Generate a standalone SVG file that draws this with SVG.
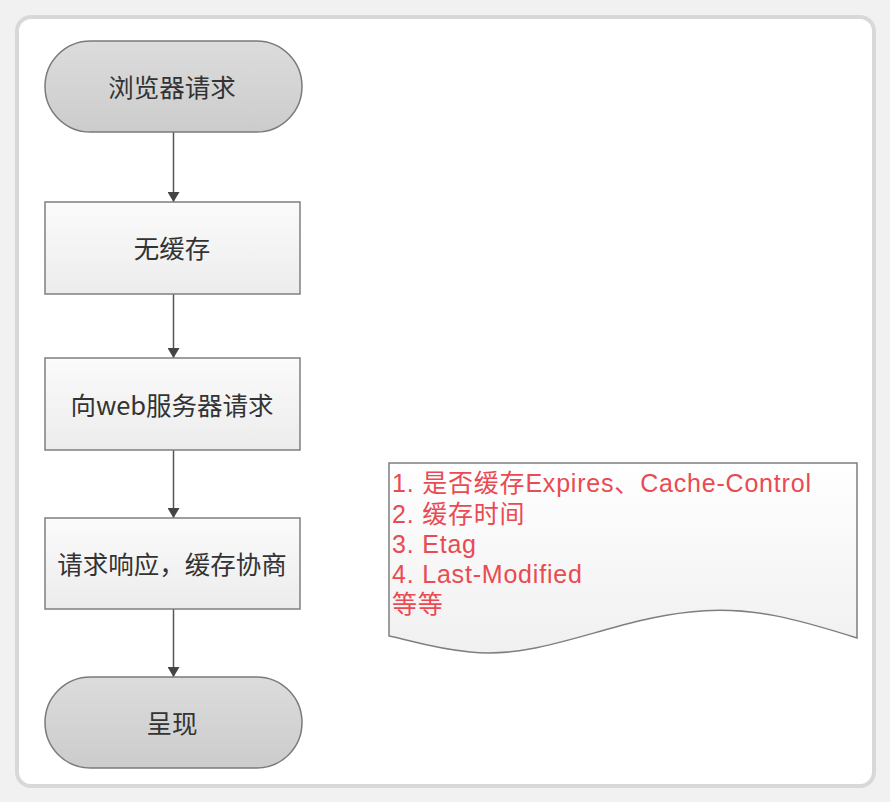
<svg xmlns="http://www.w3.org/2000/svg" width="890" height="802" viewBox="0 0 890 802">
<defs>
<linearGradient id="gT" x1="0" y1="0" x2="0" y2="1"><stop offset="0" stop-color="#dcdcdc"/><stop offset="1" stop-color="#cccccc"/></linearGradient>
<linearGradient id="gR" x1="0" y1="0" x2="0" y2="1"><stop offset="0" stop-color="#fbfbfb"/><stop offset="1" stop-color="#ececec"/></linearGradient>
<linearGradient id="gD" x1="0" y1="0" x2="0" y2="1"><stop offset="0" stop-color="#ffffff"/><stop offset="1" stop-color="#f0f0f0"/></linearGradient>
<marker id="arr" viewBox="0 0 10 12" refX="10" refY="6" markerWidth="10" markerHeight="12" markerUnits="userSpaceOnUse" orient="auto"><path d="M0,0 L10,6 L0,12 Z" fill="#444"/></marker>
</defs>
<style>
.term{fill:url(#gT);stroke:#7a7a7a;stroke-width:1.5}
.box{fill:url(#gR);stroke:#7f7f7f;stroke-width:1.5}
.lbl{font-family:"Noto Sans CJK SC","Noto Sans",sans-serif;font-size:25.5px;fill:#333;text-anchor:middle;dominant-baseline:central}
.note{font-family:"Liberation Sans","Noto Sans CJK SC",sans-serif;font-size:25px;letter-spacing:0.8px;fill:#ea4a52}
.conn{stroke:#555;stroke-width:1.5;fill:none}
</style>
<rect width="890" height="802" fill="#f1f1f1"/>
<rect x="17" y="17" width="857" height="769" rx="14" fill="#ffffff" stroke="#d8d8d8" stroke-width="4"/>
<g id="connectors">
<line class="conn" x1="173.5" y1="132" x2="173.5" y2="202" marker-end="url(#arr)"/>
<line class="conn" x1="173.5" y1="294" x2="173.5" y2="358" marker-end="url(#arr)"/>
<line class="conn" x1="173.5" y1="450" x2="173.5" y2="518" marker-end="url(#arr)"/>
<line class="conn" x1="173.5" y1="609" x2="173.5" y2="677" marker-end="url(#arr)"/>
</g>
<g id="n1">
<rect class="term" x="45" y="41" width="257" height="91" rx="45.5"/>
<text class="lbl" x="172" y="85">浏览器请求</text>
</g>
<g id="n2">
<rect class="box" x="45" y="202" width="255" height="92"/>
<text class="lbl" x="172" y="246">无缓存</text>
</g>
<g id="n3">
<rect class="box" x="45" y="358" width="255" height="92"/>
<text class="lbl" x="172" y="403">向web服务器请求</text>
</g>
<g id="n4">
<rect class="box" x="45" y="518" width="255" height="91"/>
<text class="lbl" x="172" y="562">请求响应，缓存协商</text>
</g>
<g id="n5">
<rect class="term" x="45" y="677" width="257" height="91" rx="45.5"/>
<text class="lbl" x="172" y="721">呈现</text>
</g>
<g id="note">
<path d="M389,463 L857,463 L857,638 C800,620 750,605 690,612 C610,620 540,660 470,652 C430,648 410,640 389,636 Z" fill="url(#gD)" stroke="#7f7f7f" stroke-width="1.5"/>
<text class="note" x="392" y="492">1. 是否缓存Expires、Cache-Control</text>
<text class="note" x="392" y="523">2. 缓存时间</text>
<text class="note" x="392" y="553">3. Etag</text>
<text class="note" x="392" y="583">4. Last-Modified</text>
<text class="note" x="392" y="613">等等</text>
</g>
</svg>
